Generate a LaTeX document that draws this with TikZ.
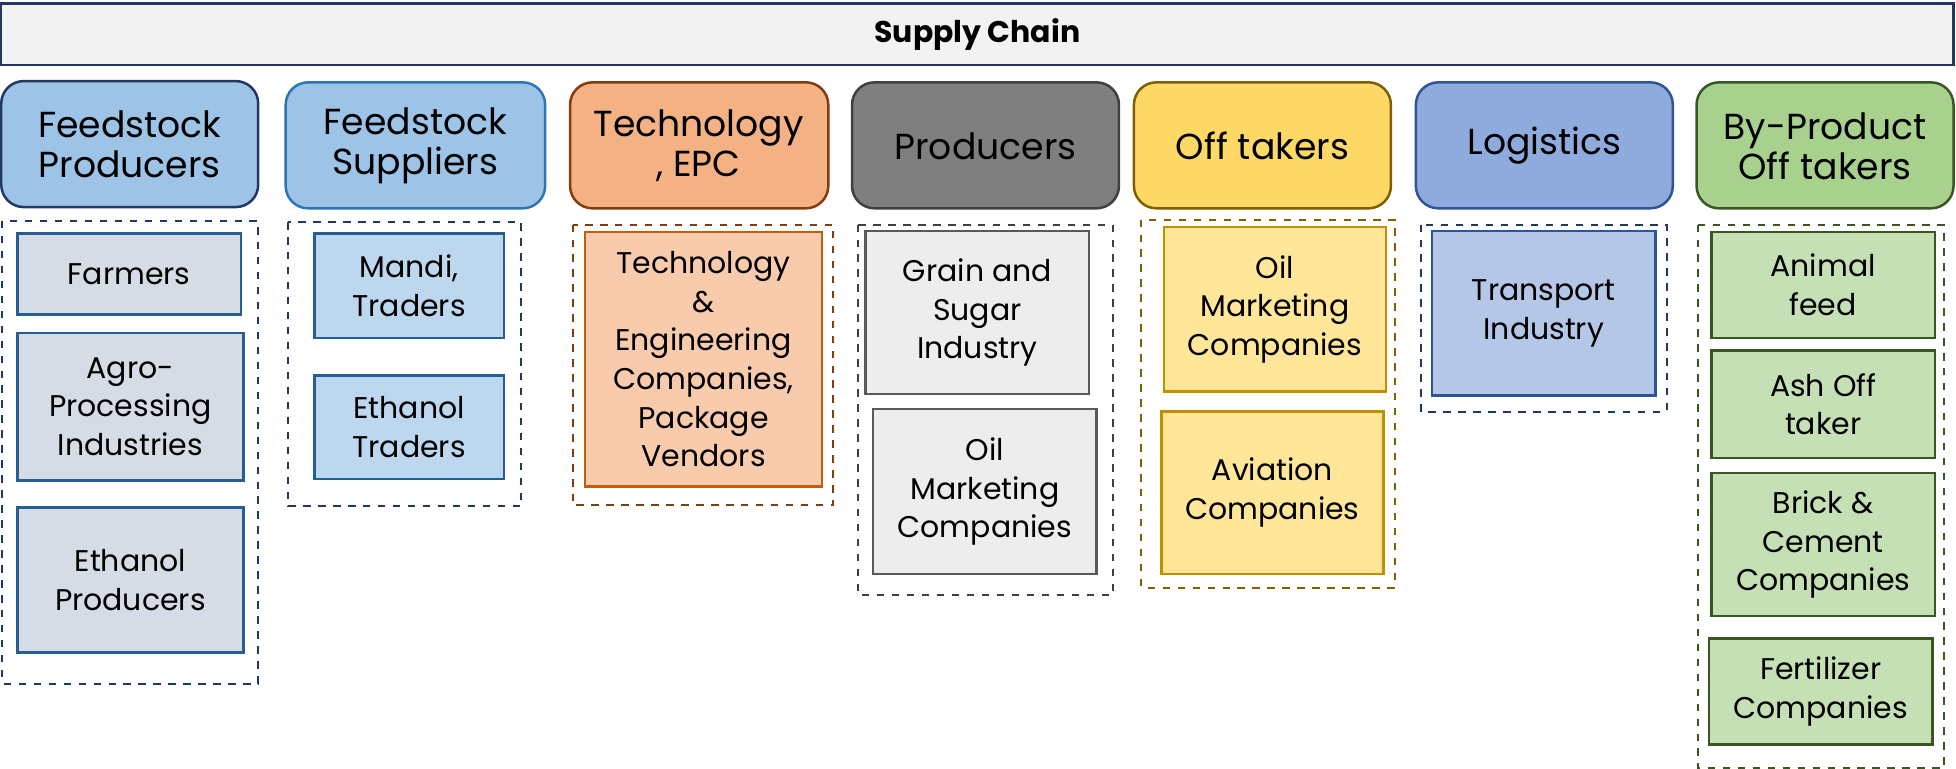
\documentclass[tikz,border=0pt]{standalone}
\usepackage{fontspec}
\setmainfont{Poppins}
\tikzset{every picture/.style={line width=0.75pt}}
\tikzset{
	head/.style={rounded corners=9pt, line width=1pt},
	group/.style={dashed, line width=0.8pt},
	item/.style={line width=1pt},
	headtext/.style={align=center, inner sep=0pt, font=\fontsize{14.5}{16}\selectfont},
	itemtext/.style={align=center, inner sep=0pt, font=\fontsize{12}{15.5}\selectfont}}
\definecolor{navy}{RGB}{31,56,100}
\definecolor{blueA}{RGB}{157,195,230}
\definecolor{blueB}{RGB}{46,117,182}
\definecolor{orangeA}{RGB}{244,177,131}
\definecolor{orangeB}{RGB}{132,60,12}
\definecolor{grayA}{RGB}{127,127,127}
\definecolor{grayB}{RGB}{64,64,64}
\definecolor{yellowA}{RGB}{255,217,102}
\definecolor{yellowB}{RGB}{127,96,0}
\definecolor{steelA}{RGB}{143,170,220}
\definecolor{steelB}{RGB}{47,85,151}
\definecolor{greenA}{RGB}{169,209,142}
\definecolor{greenB}{RGB}{56,87,35}

\begin{document}
\begin{tikzpicture}[x=0.5pt,y=0.5pt,yscale=-1,xscale=1]
	\useasboundingbox (0,0) rectangle (1568,616);
	
	% Title
	\draw [navy, line width=1pt, fill={rgb, 255:red, 242; green, 242; blue, 242}] (1,3) rectangle (1566,52);
	\node (title) at (783.5,28) [inner sep=0pt, font=\bfseries\fontsize{12}{14}\selectfont] {Supply Chain};
	
	% Headers
	\draw [head, draw=navy, fill=blueA] (1,65) rectangle (207,166);
	\node (hfp) at (104,116) [headtext] {Feedstock\\Producers};
	\draw [head, draw=blueB, fill=blueA] (229,66) rectangle (437,167);
	\node (hfs) at (333,117) [headtext] {Feedstock\\Suppliers};
	\draw [head, draw=orangeB, fill=orangeA] (457,66) rectangle (664,167);
	\node (hte) at (560,117) [headtext] {Technology\\, EPC};
	\draw [head, draw=grayB, fill=grayA] (683,66) rectangle (897,167);
	\node (hpr) at (790,117) [headtext] {Producers};
	\draw [head, draw=yellowB, fill=yellowA] (909,66) rectangle (1115,167);
	\node (hot) at (1012,117) [headtext] {Off takers};
	\draw [head, draw=steelB, fill=steelA] (1135,66) rectangle (1341,167);
	\node (hlo) at (1238,117) [headtext] {Logistics};
	\draw [head, draw=greenB, fill=greenA] (1360,66) rectangle (1566,167);
	\node (hbp) at (1463,117) [headtext] {By-Product\\Off takers};
	
	% Dashed groups
	\draw [group, navy] (2,177) rectangle (207,548);
	\draw [group, navy] (231,178) rectangle (418,406);
	\draw [group, orangeB] (459,180) rectangle (668,405);
	\draw [group, grayB] (688,180) rectangle (892,477);
	\draw [group, yellowB] (915,176) rectangle (1118,471);
	\draw [group, navy] (1139,180) rectangle (1336,330);
	\draw [group, greenB] (1361,180) rectangle (1558,616);
	
	% Feedstock producers
	\draw [item, draw=blueB!80!black, fill={rgb, 255:red, 214; green, 220; blue, 229}] (14,187) rectangle (193,252);
	\node (farm) at (103.5,219.5) [itemtext] {Farmers};
	\draw [item, draw=blueB!80!black, fill={rgb, 255:red, 214; green, 220; blue, 229}] (14,267) rectangle (195,385);
	\node (agro) at (104.5,326) [itemtext] {Agro-\\Processing\\Industries};
	\draw [item, draw=blueB!80!black, fill={rgb, 255:red, 214; green, 220; blue, 229}] (14,407) rectangle (195,523);
	\node (ethp) at (104.5,465) [itemtext] {Ethanol\\Producers};
	
	% Feedstock suppliers
	\draw [item, draw=blueB!80!black, fill={rgb, 255:red, 189; green, 215; blue, 238}] (252,187) rectangle (404,271);
	\node (mandi) at (328,229) [itemtext] {Mandi,\\Traders};
	\draw [item, draw=blueB!80!black, fill={rgb, 255:red, 189; green, 215; blue, 238}] (252,301) rectangle (404,384);
	\node (etht) at (328,342.5) [itemtext] {Ethanol\\Traders};
	
	% Technology
	\draw [item, draw={rgb, 255:red, 197; green, 90; blue, 17}, fill={rgb, 255:red, 248; green, 203; blue, 173}] (469,186) rectangle (659,390);
	\node (tech) at (564,288) [itemtext] {Technology\\\&\\Engineering\\Companies,\\Package\\Vendors};
	
	% Producers
	\draw [item, draw={rgb, 255:red, 89; green, 89; blue, 89}, fill={rgb, 255:red, 237; green, 237; blue, 237}] (694,185) rectangle (873,316);
	\node (grain) at (783.5,250.5) [itemtext] {Grain and\\Sugar\\Industry};
	\draw [item, draw={rgb, 255:red, 89; green, 89; blue, 89}, fill={rgb, 255:red, 237; green, 237; blue, 237}] (700,328) rectangle (879,460);
	\node (omc) at (789.5,394) [itemtext] {Oil\\Marketing\\Companies};
	
	% Off takers
	\draw [item, draw={rgb, 255:red, 191; green, 144; blue, 0}, fill={rgb, 255:red, 255; green, 230; blue, 153}] (933,182) rectangle (1111,314);
	\node (omc2) at (1022,248) [itemtext] {Oil\\Marketing\\Companies};
	\draw [item, draw={rgb, 255:red, 191; green, 144; blue, 0}, fill={rgb, 255:red, 255; green, 230; blue, 153}] (931,330) rectangle (1109,460);
	\node (avia) at (1020,395) [itemtext] {Aviation\\Companies};
	
	% Logistics
	\draw [item, draw=steelB, fill={rgb, 255:red, 180; green, 199; blue, 231}] (1148,185) rectangle (1327,317);
	\node (trans) at (1237.5,251) [itemtext] {Transport\\Industry};
	
	% By-products
	\draw [item, draw=greenB, fill={rgb, 255:red, 197; green, 224; blue, 180}] (1372,186) rectangle (1551,271);
	\node (feed) at (1461.5,228.5) [itemtext] {Animal\\feed};
	\draw [item, draw=greenB, fill={rgb, 255:red, 197; green, 224; blue, 180}] (1372,281) rectangle (1551,367);
	\node (ash) at (1461.5,324) [itemtext] {Ash Off\\taker};
	\draw [item, draw=greenB, fill={rgb, 255:red, 197; green, 224; blue, 180}] (1372,379) rectangle (1551,494);
	\node (brick) at (1461.5,436.5) [itemtext] {Brick \&\\Cement\\Companies};
	\draw [item, draw=greenB, fill={rgb, 255:red, 197; green, 224; blue, 180}] (1370,512) rectangle (1549,597);
	\node (fert) at (1459.5,554.5) [itemtext] {Fertilizer\\Companies};
	
\end{tikzpicture}
\end{document}
